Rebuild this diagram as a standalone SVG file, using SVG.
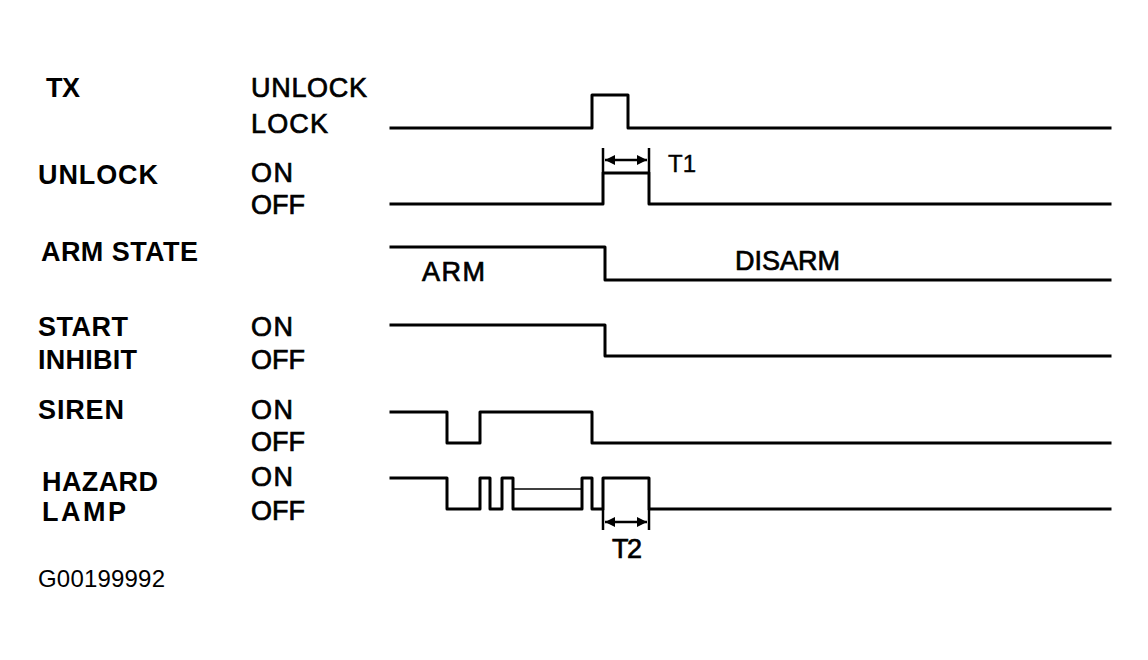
<svg xmlns="http://www.w3.org/2000/svg" width="1148" height="660" viewBox="0 0 1148 660">
<defs>
<style>
.lbl{font-family:"Liberation Sans",Arial,sans-serif;font-weight:bold;font-size:27px;fill:#000}
.st{font-family:"Liberation Sans",Arial,sans-serif;font-weight:normal;font-size:27px;fill:#000;stroke:#000;stroke-width:0.7}
.sm{font-family:"Liberation Sans",Arial,sans-serif;font-size:24px;fill:#000}
.wave{fill:none;stroke:#000;stroke-width:3;stroke-linejoin:round;stroke-linecap:square}
.thin{fill:none;stroke:#000;stroke-width:1.6}
.dim{fill:none;stroke:#000;stroke-width:2.5}
</style>
<marker id="ah" viewBox="0 0 10 10" refX="10" refY="5" markerWidth="4" markerHeight="4" orient="auto-start-reverse">
<path d="M0,0 L10,5 L0,10 z" fill="#000"/>
</marker>
</defs>
<rect width="1148" height="660" fill="#fff"/>

<g id="row-tx">
<text class="lbl" x="46" y="97" textLength="34">TX</text>
<text class="st" x="251" y="97" textLength="116">UNLOCK</text>
<text class="st" x="251" y="133" textLength="77">LOCK</text>
</g>
<g id="row-unlock">
<text class="lbl" x="38" y="184" textLength="120">UNLOCK</text>
<text class="st" x="251" y="182" textLength="42">ON</text>
<text class="st" x="251" y="214" textLength="54">OFF</text>
</g>
<g id="row-arm">
<text class="lbl" x="41" y="261" textLength="157">ARM STATE</text>
<text class="st" x="422" y="281" textLength="63">ARM</text>
<text class="st" x="735" y="270" textLength="105">DISARM</text>
</g>
<g id="row-start">
<text class="lbl" x="38" y="336" textLength="90">START</text>
<text class="lbl" x="38" y="369" textLength="99">INHIBIT</text>
<text class="st" x="251" y="336" textLength="42">ON</text>
<text class="st" x="251" y="369" textLength="54">OFF</text>
</g>
<g id="row-siren">
<text class="lbl" x="38" y="419" textLength="86">SIREN</text>
<text class="st" x="251" y="419" textLength="42">ON</text>
<text class="st" x="251" y="451" textLength="54">OFF</text>
</g>
<g id="row-hazard">
<text class="lbl" x="42" y="491" textLength="116">HAZARD</text>
<text class="lbl" x="42" y="521" textLength="84">LAMP</text>
<text class="st" x="251" y="486" textLength="42">ON</text>
<text class="st" x="251" y="520" textLength="54">OFF</text>
</g>
<g id="figure-id">
<text class="sm" x="38" y="587" textLength="127">G00199992</text>
</g>

<g id="connectors">
<path class="wave" d="M391,128 H592 V95 H628 V128 H1110"/>
<path class="wave" d="M391,204 H603 V173 H649 V204 H1110"/>
<path class="wave" d="M391,247 H605 V280 H1110"/>
<path class="wave" d="M391,325 H605 V356 H1110"/>
<path class="wave" d="M391,412 H447 V443 H480 V412 H592 V443 H1110"/>
<path class="wave" d="M391,478 H447 V509 H480 V478 H490 V509 H502 V478 H513 V509 H582 V478 H592 V509 H603 V478 H649 V509 H1110"/>
<path class="thin" d="M514,489 H581"/>
<path class="dim" d="M603,148 V173 M649,148 V173"/>
<path class="dim" d="M605,160 H647" marker-start="url(#ah)" marker-end="url(#ah)"/>
<text class="st" x="668" y="172" style="font-size:24px;stroke-width:0.4">T1</text>
<path class="dim" d="M603,509 V530 M649,509 V530"/>
<path class="dim" d="M605,522 H647" marker-start="url(#ah)" marker-end="url(#ah)"/>
<text class="st" x="612" y="558" textLength="30">T2</text>
</g>
</svg>
